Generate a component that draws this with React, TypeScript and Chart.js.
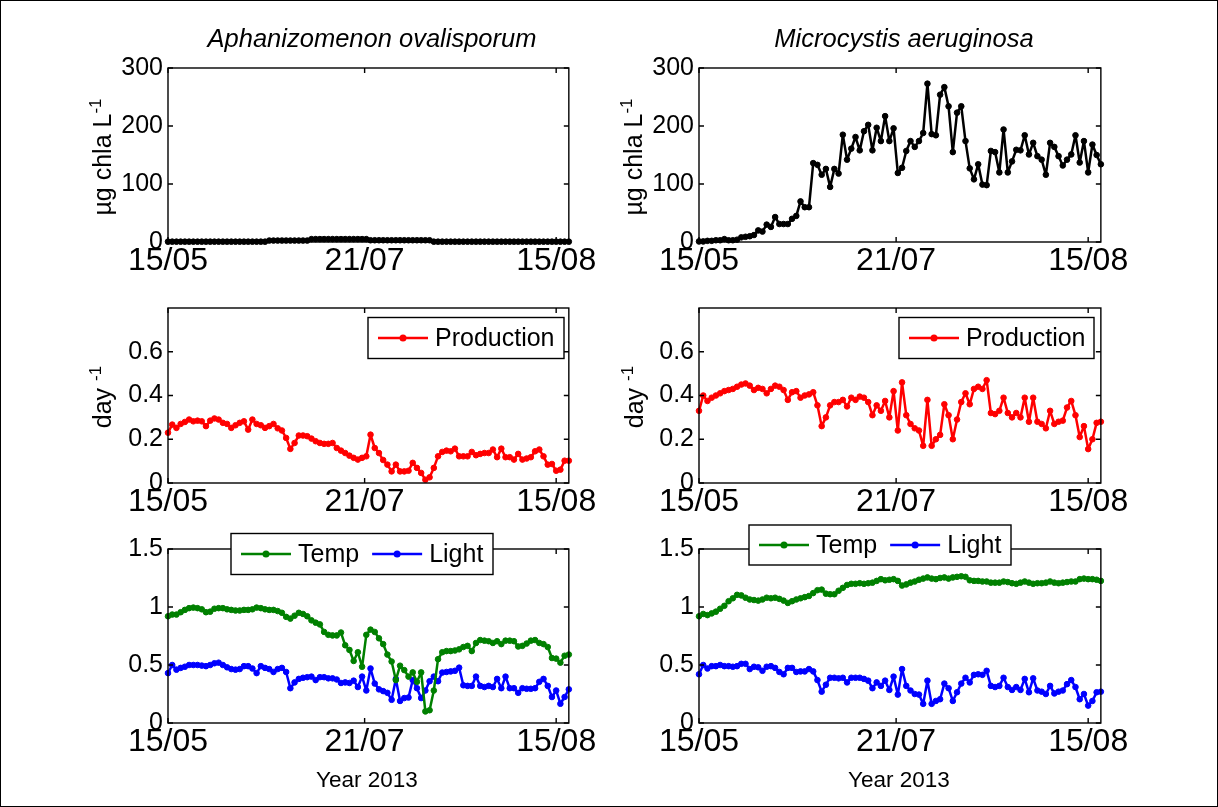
import React, { useEffect, useRef } from 'react';
import { Chart, registerables } from 'chart.js';

Chart.register(...registerables);

const FONT = '"Liberation Sans", Arial, Helvetica, sans-serif';

// ---------- data ----------
const xTickValues = [0, 46.6, 92];
const xTickLabels = ['15/05', '21/07', '15/08'];

const chlaTicks = [0, 100, 200, 300];
const chlaTickLabels = ['0', '100', '200', '300'];
const prodTicks = [0, 0.2, 0.4, 0.6];
const prodTickLabels = ['0', '0.2', '0.4', '0.6'];
const limTicks = [0, 0.5, 1, 1.5];
const limTickLabels = ['0', '0.5', '1', '1.5'];

const chlaAphan = [
  0.6, 0.6, 0.6, 0.6, 0.6, 0.6, 0.6, 0.6, 0.6, 0.6,
  0.6, 0.6, 0.6, 0.6, 0.6, 0.6, 0.6, 0.6, 0.6, 0.6,
  0.6, 0.6, 0.6, 0.6, 2.5, 2.5, 2.5, 2.5, 2.5, 2.5,
  2.5, 2.5, 2.5, 2.5, 5, 5, 5, 5, 5, 5,
  5, 5, 5, 5, 5, 5, 5, 5, 3, 3,
  3, 3, 3, 3, 3, 3, 3, 3, 3, 3,
  3, 3, 3, 0.6, 0.6, 0.6, 0.6, 0.6, 0.6, 0.6,
  0.6, 0.6, 0.6, 0.6, 0.6, 0.6, 0.6, 0.6, 0.6, 0.6,
  0.6, 0.6, 0.6, 0.6, 0.6, 0.6, 0.6, 0.6, 0.6, 0.6,
  0.6, 0.6, 0.6, 0.6, 0.6, 0.6,
];

const chlaMicro = [
  1, 1, 2, 2, 3, 3, 5, 3, 3, 4,
  8, 9, 10, 12, 20, 18, 30, 26, 43, 31,
  31, 31, 40, 45, 70, 60, 60, 136, 133, 116,
  126, 95, 126, 118, 185, 142, 161, 181, 158, 191,
  202, 158, 197, 174, 217, 174, 196, 119, 128, 157,
  174, 164, 174, 188, 273, 186, 184, 254, 267, 234,
  155, 223, 234, 174, 127, 108, 134, 99, 98, 157,
  155, 120, 194, 120, 139, 159, 158, 184, 151, 171,
  148, 142, 116, 171, 164, 148, 132, 142, 151, 184,
  137, 174, 120, 168, 150, 134,
];

const prodAphan = [
  0.23, 0.267, 0.252, 0.27, 0.279, 0.29, 0.282, 0.285, 0.282, 0.26,
  0.285, 0.295, 0.29, 0.275, 0.27, 0.252, 0.264, 0.275, 0.282, 0.244,
  0.29, 0.27, 0.264, 0.252, 0.26, 0.27, 0.25, 0.24, 0.206, 0.156,
  0.183, 0.217, 0.217, 0.214, 0.203, 0.191, 0.183, 0.179, 0.179, 0.183,
  0.16, 0.148, 0.137, 0.125, 0.115, 0.107, 0.115, 0.122, 0.221, 0.16,
  0.137, 0.105, 0.084, 0.053, 0.084, 0.053, 0.053, 0.056, 0.092, 0.069,
  0.046, 0.015, 0.026, 0.069, 0.122, 0.142, 0.148, 0.145, 0.157, 0.122,
  0.122, 0.122, 0.142, 0.127, 0.133, 0.137, 0.137, 0.153, 0.118, 0.157,
  0.118, 0.118, 0.107, 0.133, 0.107, 0.112, 0.118, 0.145, 0.153, 0.122,
  0.084, 0.087, 0.056, 0.061, 0.102, 0.102,
];

const prodMicro = [
  0.33, 0.4, 0.375, 0.39, 0.4, 0.41, 0.42, 0.425, 0.43, 0.44,
  0.45, 0.455, 0.445, 0.425, 0.435, 0.43, 0.41, 0.43, 0.445, 0.44,
  0.425, 0.38, 0.415, 0.42, 0.39, 0.4, 0.405, 0.415, 0.355, 0.26,
  0.3, 0.355, 0.37, 0.37, 0.38, 0.35, 0.39, 0.38, 0.395, 0.39,
  0.37, 0.31, 0.355, 0.33, 0.375, 0.3, 0.42, 0.24, 0.46, 0.31,
  0.27, 0.25, 0.24, 0.17, 0.38, 0.17, 0.2, 0.22, 0.36, 0.31,
  0.2, 0.29, 0.37, 0.41, 0.36, 0.43, 0.44, 0.43, 0.47, 0.32,
  0.315, 0.33, 0.39, 0.32, 0.3, 0.32, 0.3, 0.39, 0.28, 0.39,
  0.28, 0.27, 0.25, 0.33, 0.27, 0.28, 0.285, 0.345, 0.375, 0.31,
  0.21, 0.26, 0.155, 0.2, 0.275, 0.28,
];

const tempAphan = [
  0.92, 0.935, 0.935, 0.955, 0.975, 0.99, 0.995, 0.99, 0.98, 0.955,
  0.96, 0.985, 0.99, 0.99, 0.98, 0.975, 0.97, 0.97, 0.975, 0.975,
  0.98, 0.995, 0.99, 0.98, 0.975, 0.975, 0.965, 0.95, 0.915, 0.9,
  0.925, 0.95, 0.94, 0.92, 0.885, 0.865, 0.85, 0.785, 0.76, 0.755,
  0.755, 0.78, 0.67, 0.63, 0.535, 0.61, 0.485, 0.76, 0.805, 0.785,
  0.73, 0.68, 0.59, 0.53, 0.37, 0.494, 0.456, 0.4, 0.436, 0.355,
  0.436, 0.1, 0.11, 0.28, 0.55, 0.61, 0.62, 0.62, 0.625, 0.635,
  0.655, 0.665, 0.62, 0.69, 0.715, 0.71, 0.705, 0.69, 0.705, 0.68,
  0.71, 0.71, 0.705, 0.66, 0.665, 0.685, 0.71, 0.715, 0.69, 0.68,
  0.655, 0.56, 0.555, 0.52, 0.58, 0.59,
];

const lightAphan = [
  0.43, 0.5, 0.46, 0.475, 0.485, 0.5, 0.5, 0.5, 0.495, 0.49,
  0.5, 0.515, 0.52, 0.5, 0.48, 0.465, 0.46, 0.465, 0.49, 0.49,
  0.47, 0.43, 0.49, 0.475, 0.465, 0.44, 0.465, 0.475, 0.44, 0.3,
  0.35, 0.38, 0.39, 0.395, 0.4, 0.37, 0.395, 0.395, 0.385, 0.385,
  0.375, 0.345, 0.35, 0.345, 0.365, 0.31, 0.4, 0.28, 0.47, 0.34,
  0.29, 0.275, 0.26, 0.2, 0.38, 0.19, 0.215, 0.22, 0.37, 0.3,
  0.215, 0.28, 0.36, 0.4, 0.36, 0.435, 0.44, 0.445, 0.45, 0.477,
  0.325, 0.32, 0.32, 0.4, 0.32, 0.31, 0.32, 0.31, 0.38, 0.3,
  0.4, 0.3, 0.3, 0.26, 0.3, 0.295, 0.295, 0.3, 0.355, 0.38,
  0.32, 0.224, 0.28, 0.166, 0.224, 0.29,
];

const tempMicro = [
  0.92, 0.94, 0.93, 0.945, 0.96, 0.985, 1.01, 1.05, 1.075, 1.105,
  1.1, 1.08, 1.065, 1.06, 1.055, 1.065, 1.08, 1.075, 1.08, 1.07,
  1.055, 1.035, 1.05, 1.065, 1.075, 1.085, 1.095, 1.12, 1.145, 1.15,
  1.115, 1.11, 1.11, 1.14, 1.165, 1.19, 1.2, 1.2, 1.205, 1.2,
  1.205, 1.21, 1.225, 1.24, 1.23, 1.235, 1.24, 1.225, 1.185, 1.195,
  1.21, 1.22, 1.235, 1.245, 1.255, 1.245, 1.24, 1.25, 1.255, 1.245,
  1.255, 1.26, 1.265, 1.26, 1.23, 1.225, 1.225, 1.22, 1.22, 1.21,
  1.21, 1.21, 1.22, 1.215, 1.205, 1.2, 1.21, 1.22, 1.21, 1.2,
  1.205, 1.205, 1.21, 1.22, 1.21, 1.205, 1.21, 1.215, 1.22, 1.22,
  1.24, 1.245, 1.24, 1.24, 1.235, 1.225,
];

const lightMicro = [
  0.42, 0.5, 0.47, 0.49, 0.49, 0.5, 0.49, 0.49, 0.485, 0.49,
  0.51, 0.51, 0.465, 0.485, 0.48, 0.45, 0.485, 0.49, 0.475, 0.44,
  0.42, 0.475, 0.475, 0.44, 0.445, 0.445, 0.465, 0.445, 0.37, 0.27,
  0.33, 0.39, 0.39, 0.385, 0.39, 0.35, 0.39, 0.39, 0.39, 0.38,
  0.365, 0.3, 0.35, 0.32, 0.365, 0.285, 0.4, 0.245, 0.465, 0.32,
  0.28, 0.25, 0.245, 0.165, 0.365, 0.165, 0.19, 0.205, 0.34, 0.3,
  0.19, 0.265, 0.34, 0.39, 0.35, 0.415, 0.42, 0.415, 0.45, 0.32,
  0.31, 0.32, 0.39, 0.31, 0.285, 0.31, 0.285, 0.38, 0.265, 0.385,
  0.28, 0.27, 0.25, 0.32, 0.255, 0.27, 0.28, 0.335, 0.37, 0.31,
  0.205, 0.25, 0.15, 0.19, 0.265, 0.27,
];

// ---------- styles / layout ----------
const BLACK = '#000000';
const RED = '#ff0000';
const GREEN = '#008000';
const BLUE = '#0000ff';

const PL = 100, PR = 25, PT = 40, PB = 50;

type Rect = { x: number; y: number; w: number; h: number };
type Series = { label: string; data: number[]; color: string };
type LegendSpec = { dx: number; dy: number; w: number; h: number } | null;

const colLeft = { x: 167, w: 404 };
const colRight = { x: 698, w: 405 };
const row1 = { y: 67, h: 174 };
const row2 = { y: 307, h: 175 };
const row3 = { y: 548, h: 174 };

const boxAxesPlugin = {
  id: 'boxAxes',
  afterDraw(chart: any, _args: any, opts: any) {
    const { ctx, chartArea } = chart;
    const { left, right, top, bottom } = chartArea;
    ctx.save();
    ctx.strokeStyle = '#000';
    ctx.lineWidth = 1.4;
    const xs = chart.scales.x;
    const ys = chart.scales.y;
    const tl = 5;
    ctx.beginPath();
    xs.ticks.forEach((t: any) => {
      const px = xs.getPixelForValue(t.value);
      ctx.moveTo(px, bottom); ctx.lineTo(px, bottom - tl);
      ctx.moveTo(px, top); ctx.lineTo(px, top + tl);
    });
    ys.ticks.forEach((t: any) => {
      const py = ys.getPixelForValue(t.value);
      ctx.moveTo(left, py); ctx.lineTo(left + tl, py);
      ctx.moveTo(right, py); ctx.lineTo(right - tl, py);
    });
    ctx.stroke();
    ctx.strokeRect(left, top, right - left, bottom - top);

    const lg = opts && opts.legend;
    if (lg) {
      const bx = left + lg.dx;
      const by = top + lg.dy;
      ctx.fillStyle = '#fff';
      ctx.fillRect(bx, by, lg.w, lg.h);
      ctx.lineWidth = 1.4;
      ctx.strokeStyle = '#000';
      ctx.strokeRect(bx, by, lg.w, lg.h);
      ctx.font = `25px ${FONT}`;
      ctx.textBaseline = 'middle';
      ctx.textAlign = 'left';
      let sx = bx + 10;
      const cy = by + lg.h / 2;
      chart.data.datasets.forEach((ds: any) => {
        ctx.strokeStyle = ds.borderColor;
        ctx.lineWidth = 2.5;
        ctx.beginPath();
        ctx.moveTo(sx, cy); ctx.lineTo(sx + 50, cy);
        ctx.stroke();
        ctx.fillStyle = ds.borderColor;
        ctx.beginPath();
        ctx.arc(sx + 25, cy, 3.5, 0, Math.PI * 2);
        ctx.fill();
        ctx.fillStyle = '#000';
        ctx.fillText(ds.label, sx + 57, cy + 1);
        sx = sx + 57 + ctx.measureText(ds.label).width + 13;
      });
    }
    ctx.restore();
  },
};

function Panel(props: {
  rect: Rect;
  series: Series[];
  yMax: number;
  yTicks: number[];
  yTickLabels: string[];
  legend: LegendSpec;
}) {
  const ref = useRef<HTMLCanvasElement>(null);
  const { rect, series, yMax, yTicks, yTickLabels, legend } = props;
  useEffect(() => {
    if (!ref.current) return;
    const chart = new Chart(ref.current, {
      type: 'line',
      data: {
        datasets: series.map((s) => ({
          label: s.label,
          data: s.data.map((v, i) => ({ x: i, y: v })),
          borderColor: s.color,
          backgroundColor: s.color,
          borderWidth: 2.5,
          borderJoinStyle: 'round',
          borderCapStyle: 'round',
          pointRadius: 2.8,
          pointBorderWidth: 1,
          pointBackgroundColor: s.color,
          pointBorderColor: s.color,
          tension: 0,
          clip: false as any,
        })),
      },
      options: {
        animation: false,
        responsive: false,
        maintainAspectRatio: false,
        events: [],
        layout: { padding: { top: PT, right: PR, left: 0, bottom: 0 }, autoPadding: false },
        plugins: {
          legend: { display: false },
          tooltip: { enabled: false },
          title: { display: false },
          boxAxes: { legend },
        } as any,
        scales: {
          x: {
            type: 'linear',
            min: 0,
            max: 95,
            grid: { display: false, drawTicks: false, tickLength: 0 },
            border: { display: false },
            ticks: {
              autoSkip: false,
              maxRotation: 0,
              minRotation: 0,
              padding: 0,
              color: '#000',
              font: { family: FONT, size: 32 },
              callback: (v: any) => {
                const k = xTickValues.findIndex((t) => Math.abs(t - Number(v)) < 1e-6);
                return k >= 0 ? xTickLabels[k] : '';
              },
            },
            afterBuildTicks: (s: any) => {
              s.ticks = xTickValues.map((v) => ({ value: v }));
            },
            afterFit: (s: any) => {
              s.height = PB;
            },
          },
          y: {
            type: 'linear',
            min: 0,
            max: yMax,
            grid: { display: false, drawTicks: false, tickLength: 0 },
            border: { display: false },
            ticks: {
              autoSkip: false,
              padding: 5,
              color: '#000',
              font: { family: FONT, size: 25 },
              callback: (v: any) => {
                const k = yTicks.findIndex((t) => Math.abs(t - Number(v)) < 1e-6);
                return k >= 0 ? yTickLabels[k] : '';
              },
            },
            afterBuildTicks: (s: any) => {
              s.ticks = yTicks.map((v) => ({ value: v }));
            },
            afterFit: (s: any) => {
              s.width = PL;
            },
          },
        },
      } as any,
      plugins: [boxAxesPlugin as any],
    });
    return () => chart.destroy();
  }, []);
  return (
    <canvas
      ref={ref}
      width={rect.w + PL + PR}
      height={rect.h + PT + PB}
      style={{ position: 'absolute', left: rect.x - PL, top: rect.y - PT }}
    />
  );
}

const textBase: React.CSSProperties = {
  position: 'absolute',
  whiteSpace: 'nowrap',
  fontFamily: FONT,
  color: '#000',
  lineHeight: 1,
};

function Centered(props: { x: number; y: number; size: number; italic?: boolean; rotate?: boolean; children: React.ReactNode }) {
  const { x, y, size, italic, rotate, children } = props;
  return (
    <div
      style={{
        ...textBase,
        left: x,
        top: y,
        fontSize: size,
        fontStyle: italic ? 'italic' : 'normal',
        transform: `translate(-50%, -50%)${rotate ? ' rotate(-90deg)' : ''}`,
      }}
    >
      {children}
    </div>
  );
}

const sup: React.CSSProperties = { fontSize: 17, verticalAlign: 'super', lineHeight: 0 };

export default function App() {
  return (
    <div
      style={{
        position: 'fixed',
        left: 0,
        top: 0,
        width: 1218,
        height: 807,
        boxSizing: 'border-box',
        border: '1px solid #000',
        background: '#fff',
        overflow: 'hidden',
      }}
    >
      <Panel rect={{ ...colLeft, ...row1 }} series={[{ label: 'Chla', data: chlaAphan, color: BLACK }]} yMax={300} yTicks={chlaTicks} yTickLabels={chlaTickLabels} legend={null} />
      <Panel rect={{ ...colRight, ...row1 }} series={[{ label: 'Chla', data: chlaMicro, color: BLACK }]} yMax={300} yTicks={chlaTicks} yTickLabels={chlaTickLabels} legend={null} />
      <Panel rect={{ ...colLeft, ...row2 }} series={[{ label: 'Production', data: prodAphan, color: RED }]} yMax={0.8} yTicks={prodTicks} yTickLabels={prodTickLabels} legend={{ dx: 200, dy: 9.5, w: 196, h: 41 }} />
      <Panel rect={{ ...colRight, ...row2 }} series={[{ label: 'Production', data: prodMicro, color: RED }]} yMax={0.8} yTicks={prodTicks} yTickLabels={prodTickLabels} legend={{ dx: 200, dy: 9.5, w: 195, h: 41 }} />
      <Panel rect={{ ...colLeft, ...row3 }} series={[{ label: 'Temp', data: tempAphan, color: GREEN }, { label: 'Light', data: lightAphan, color: BLUE }]} yMax={1.5} yTicks={limTicks} yTickLabels={limTickLabels} legend={{ dx: 63, dy: -15.5, w: 262, h: 41 }} />
      <Panel rect={{ ...colRight, ...row3 }} series={[{ label: 'Temp', data: tempMicro, color: GREEN }, { label: 'Light', data: lightMicro, color: BLUE }]} yMax={1.5} yTicks={limTicks} yTickLabels={limTickLabels} legend={{ dx: 50, dy: -24, w: 262, h: 40 }} />

      <Centered x={371} y={38} size={25.5} italic>Aphanizomenon ovalisporum</Centered>
      <Centered x={903} y={38} size={25.5} italic>Microcystis aeruginosa</Centered>

      <Centered x={101} y={156} size={25} rotate>µg chla L<span style={sup}>-1</span></Centered>
      <Centered x={632} y={156} size={25} rotate>µg chla L<span style={sup}>-1</span></Centered>
      <Centered x={101} y={396} size={25} rotate>day <span style={sup}>-1</span></Centered>
      <Centered x={633} y={396} size={25} rotate>day <span style={sup}>-1</span></Centered>

      <Centered x={366} y={779} size={22.5}>Year 2013</Centered>
      <Centered x={898} y={779} size={22.5}>Year 2013</Centered>
    </div>
  );
}
